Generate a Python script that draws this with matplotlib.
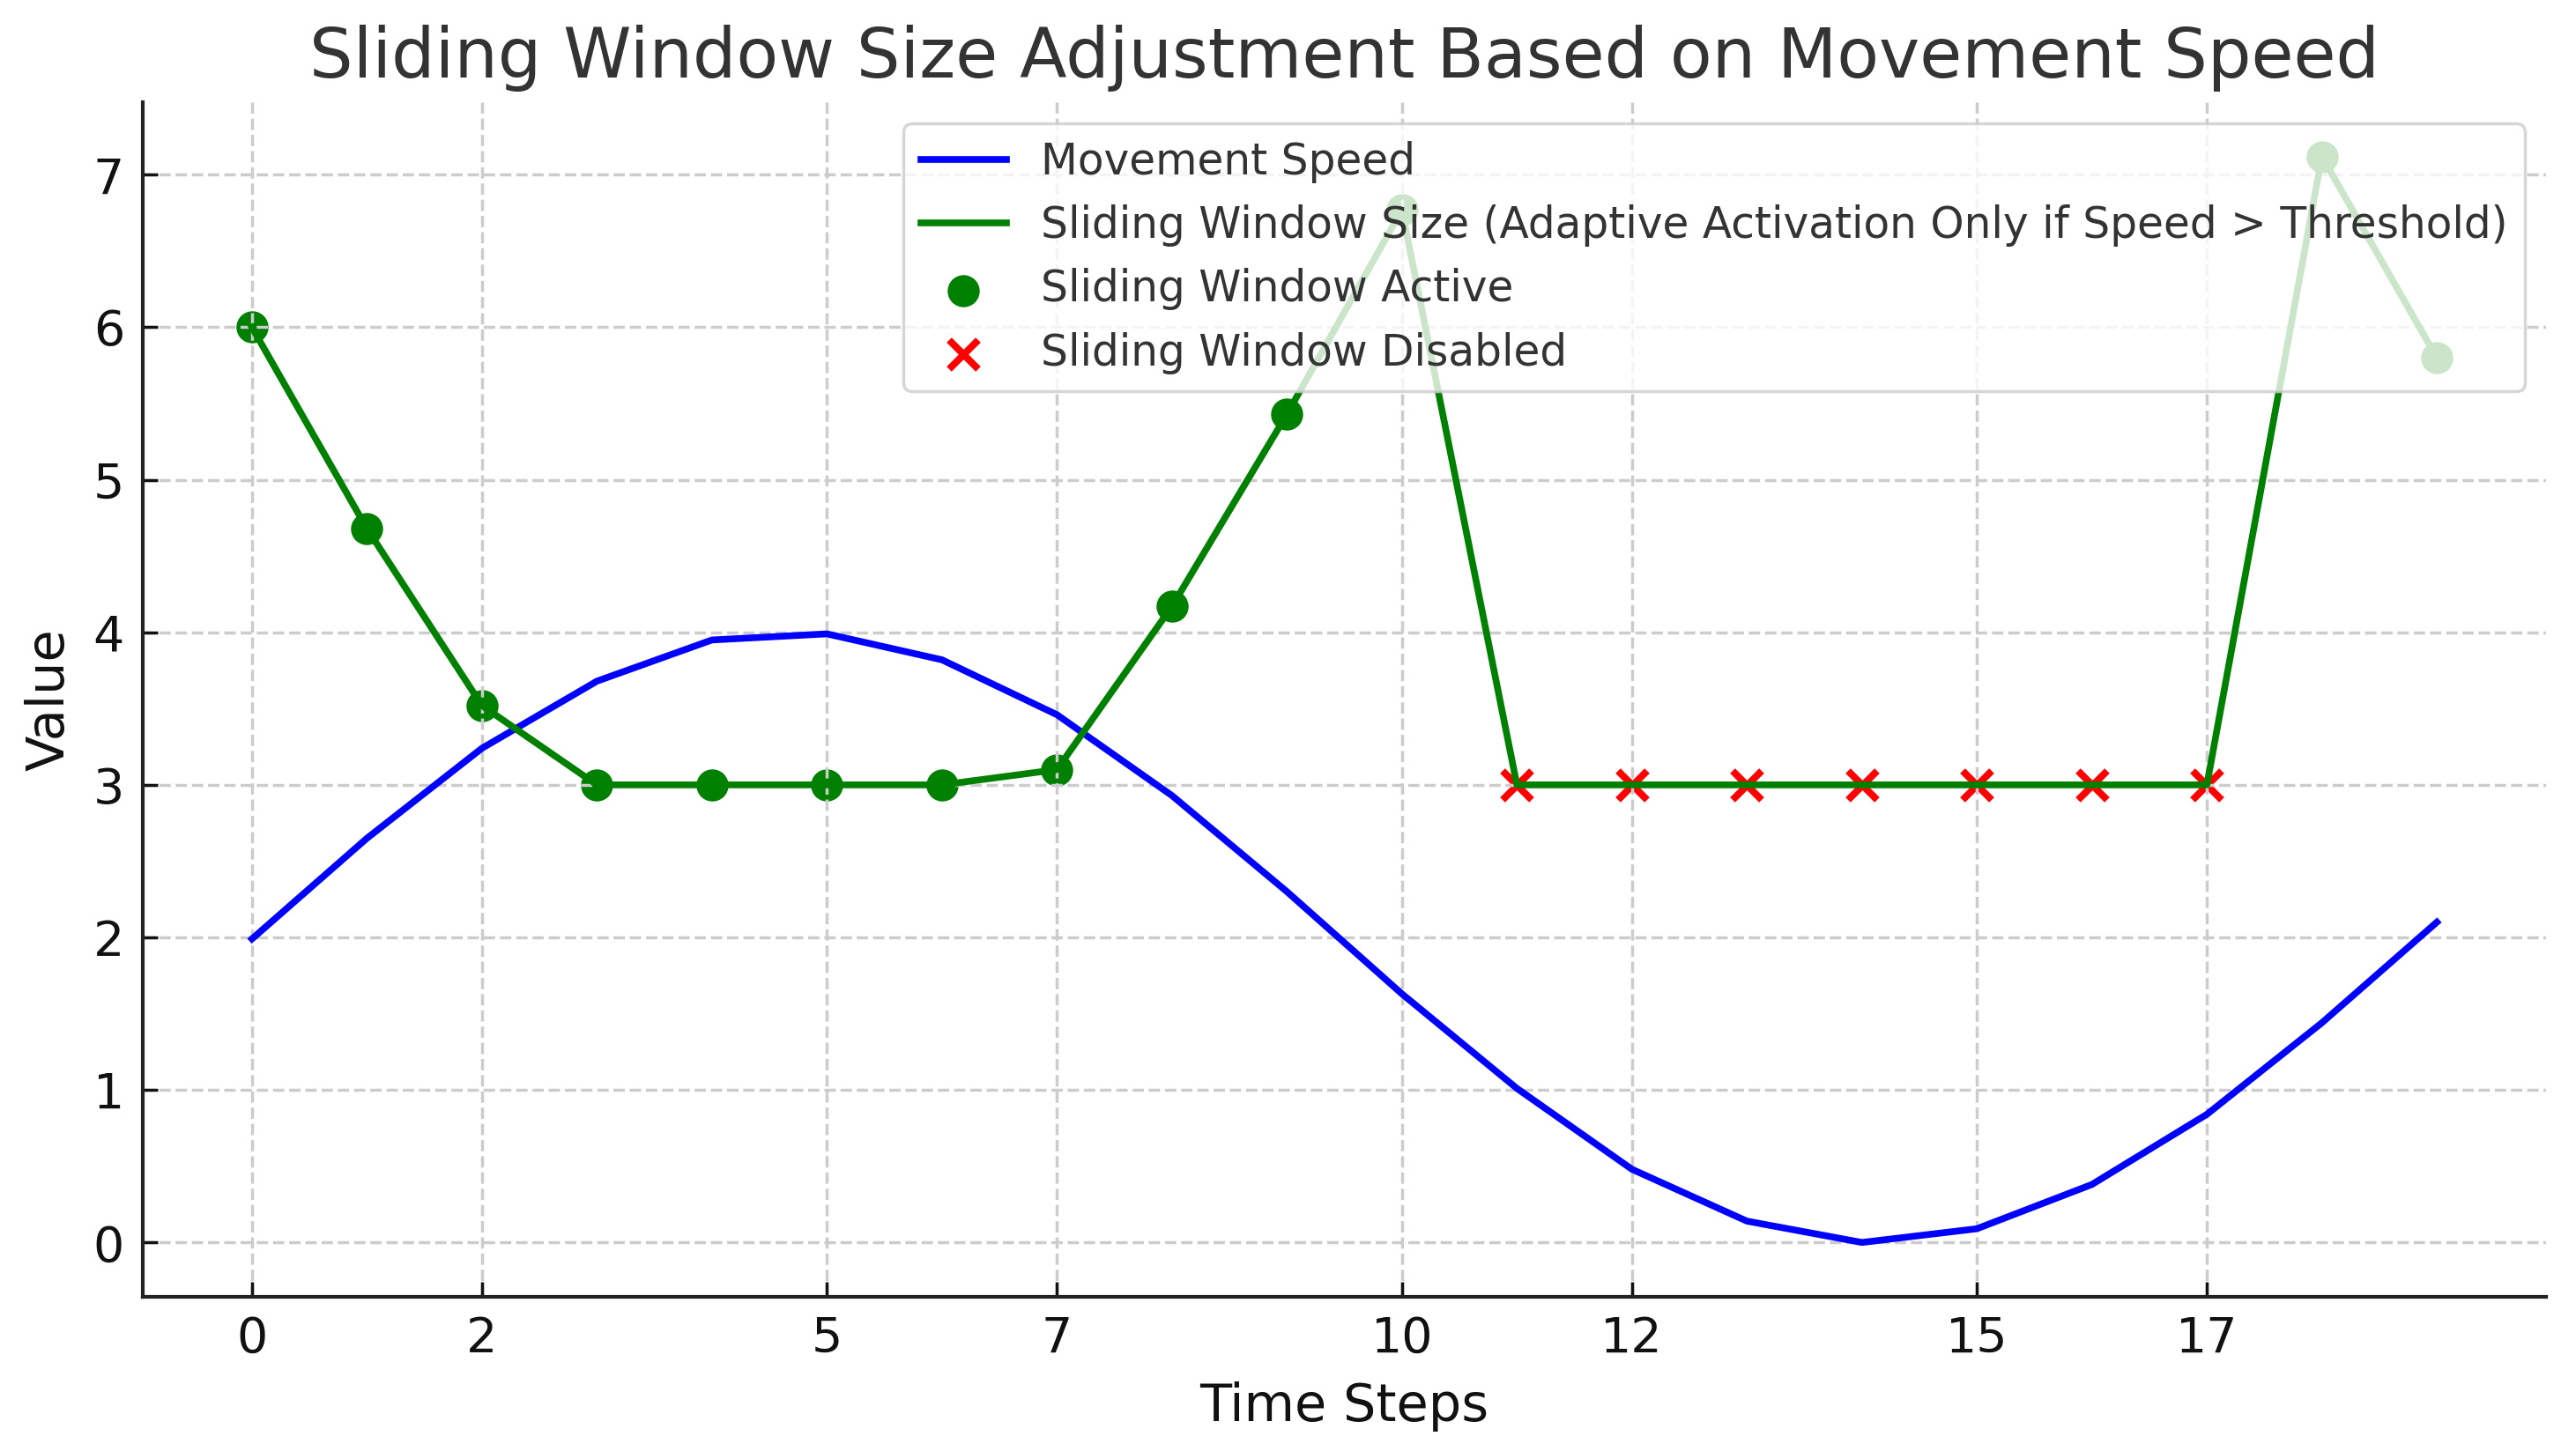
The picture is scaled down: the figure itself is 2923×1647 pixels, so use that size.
import matplotlib
matplotlib.use("Agg")
import matplotlib.pyplot as plt

time_steps = list(range(20))
movement_speed = [1.99, 2.65, 3.24, 3.68, 3.95, 3.99, 3.82, 3.46, 2.93, 2.30,
                  1.63, 1.01, 0.48, 0.14, 0.00, 0.09, 0.38, 0.84, 1.44, 2.10]
window_size = [6.00, 4.68, 3.52, 3.00, 3.00, 3.00, 3.00, 3.10, 4.17, 5.43,
               6.77, 3.00, 3.00, 3.00, 3.00, 3.00, 3.00, 3.00, 7.12, 5.80]
active_steps = [0, 1, 2, 3, 4, 5, 6, 7, 8, 9, 10, 18, 19]
disabled_steps = [11, 12, 13, 14, 15, 16, 17]
x_ticks = [0, 2, 5, 7, 10, 12, 15, 17]

text_color = "#333333"
plt.rcParams["font.family"] = ["DejaVu Sans"]

fig, ax = plt.subplots(figsize=(2923 / 250, 1647 / 250), dpi=250)
fig.subplots_adjust(left=0.0554, right=0.9884, top=0.9296, bottom=0.1063)

ax.plot(time_steps, movement_speed, color="blue", lw=2.2, label="Movement Speed")
ax.plot(time_steps, window_size, color="green", lw=2.2,
        label="Sliding Window Size (Adaptive Activation Only if Speed > Threshold)")
ax.scatter(active_steps, [window_size[i] for i in active_steps], color="green",
           s=90, label="Sliding Window Active")
ax.scatter(disabled_steps, [window_size[i] for i in disabled_steps], color="red",
           marker="x", s=90, linewidths=2.3, label="Sliding Window Disabled")

ax.set_title("Sliding Window Size Adjustment Based on Movement Speed",
             fontsize=22.5, color=text_color, pad=8)
ax.set_xlabel("Time Steps", fontsize=17, color="#111111", labelpad=6)
ax.set_ylabel("Value", fontsize=17, color="#111111", labelpad=6)
ax.set_xticks(x_ticks)
ax.set_xticklabels([str(t) for t in x_ticks])
ax.tick_params(labelsize=16, colors="#111111", width=1.0, length=5,
               direction="in", pad=6)
for s in ["top", "right"]:
    ax.spines[s].set_visible(False)
for s in ["left", "bottom"]:
    ax.spines[s].set_linewidth(1.2)
    ax.spines[s].set_color("#222222")
ax.grid(True, linestyle="--", color="#cccccc", linewidth=1)

leg = ax.legend(loc="upper right", fontsize=14, framealpha=0.8, edgecolor="#cccccc")
for t in leg.get_texts():
    t.set_color(text_color)

fig.savefig("out.png", dpi=250)
